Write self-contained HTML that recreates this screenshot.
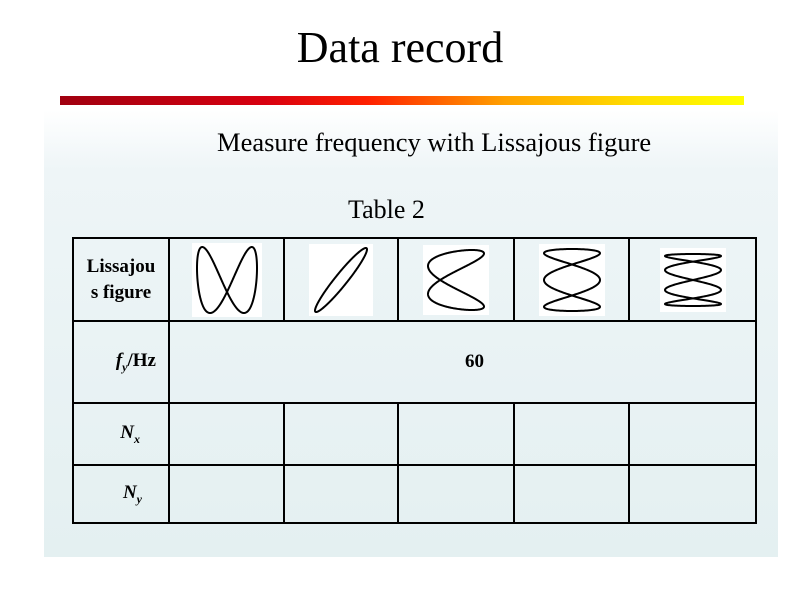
<!DOCTYPE html>
<html><head><style>
body{margin:0;width:800px;height:600px;background:#fff;position:relative;overflow:hidden;font-family:"Liberation Serif",serif}
.panel{position:absolute;left:44px;top:110px;width:734px;height:447px;background:linear-gradient(#fff 0px,#eef5f7 60px,#e4f0f1 447px)}
.bar{position:absolute;left:60px;top:96px;width:684px;height:9px;background:linear-gradient(90deg,#a00010,#d80010 30%,#ff2000 45%,#ffa000 65%,#ffe000 85%,#ffff00)}
.t{position:absolute;white-space:nowrap}
table{position:absolute;left:72px;top:237px;border-collapse:collapse}
td{border:2px solid #000;padding:0;text-align:center;font-weight:bold;font-size:19px}
svg{background:#fff;vertical-align:middle}
</style></head><body>
<div class="panel"></div>
<div class="t" style="left:0;width:800px;text-align:center;top:22px;font-size:44px">Data record</div>
<div class="bar"></div>
<div class="t" style="left:217px;top:127px;font-size:26.5px">Measure frequency with Lissajous figure</div>
<div class="t" style="left:348px;top:195px;font-size:26px">Table 2</div>
<table>
<tr style="height:83px"><td style="width:94px;line-height:26px">Lissajou<br>s figure</td>
<td style="width:113px"><svg width="70" height="74"><path id="f1" fill="none" stroke="#000" stroke-width="2"/></svg></td>
<td style="width:112px"><svg width="64" height="72"><path id="f2" fill="none" stroke="#000" stroke-width="2"/></svg></td>
<td style="width:114px"><svg width="66" height="70"><path id="f3" fill="none" stroke="#000" stroke-width="2"/></svg></td>
<td style="width:113px"><svg width="66" height="72"><path id="f4" fill="none" stroke="#000" stroke-width="2"/></svg></td>
<td style="width:125px"><svg width="66" height="64"><path id="f5" fill="none" stroke="#000" stroke-width="2"/></svg></td></tr>
<tr style="height:82px"><td style="text-align:right;padding-right:12px"><i>f<sub style="font-size:12px">y</sub></i>/Hz</td><td colspan="5" style="padding-left:24px">60</td></tr>
<tr style="height:62px"><td style="text-align:right;padding-right:28px"><i>N<sub style="font-size:12px">x</sub></i></td><td></td><td></td><td></td><td></td><td></td></tr>
<tr style="height:58px"><td style="text-align:right;padding-right:26px"><i>N<sub style="font-size:12px">y</sub></i></td><td></td><td></td><td></td><td></td><td></td></tr>
</table>
<script>
function g(id,fx,fy){var d="";for(var i=0;i<=400;i++){var t=i/400*2*Math.PI;d+=(i?"L":"M")+fx(t).toFixed(2)+","+fy(t).toFixed(2);}document.getElementById(id).setAttribute("d",d+"Z");}
g("f1",function(t){return 35+30*Math.sin(t+0.6)},function(t){return 37+33*Math.cos(2*t)});
g("f2",function(t){return 32+26*Math.sin(t)},function(t){return 36-32*Math.sin(t+0.3)});
g("f3",function(t){return 33+28*Math.sin(2*t+0.6)},function(t){return 35+30*Math.cos(t)});
g("f4",function(t){return 33+28*Math.sin(3*t)},function(t){return 36+31*Math.cos(t)});
g("f5",function(t){return 33+28*Math.sin(4*t)},function(t){return 32+26*Math.cos(t)});
</script>
</body></html>
